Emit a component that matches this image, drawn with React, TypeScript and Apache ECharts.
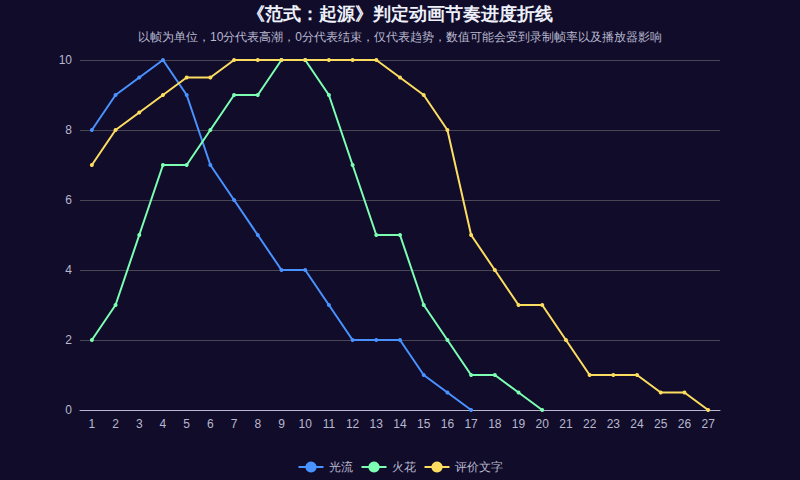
import React, { useEffect, useRef } from "react";
import * as echarts from "echarts";

const categories = ["1","2","3","4","5","6","7","8","9","10","11","12","13","14","15","16","17","18","19","20","21","22","23","24","25","26","27"];
const guangliu = [8, 9, 9.5, 10, 9, 7, 6, 5, 4, 4, 3, 2, 2, 2, 1, 0.5, 0, null, null, null, null, null, null, null, null, null, null];
const huohua = [2, 3, 5, 7, 7, 8, 9, 9, 10, 10, 9, 7, 5, 5, 3, 2, 1, 1, 0.5, 0, null, null, null, null, null, null, null];
const pingjia = [7, 8, 8.5, 9, 9.5, 9.5, 10, 10, 10, 10, 10, 10, 10, 9.5, 9, 8, 5, 4, 3, 3, 2, 1, 1, 1, 0.5, 0.5, 0];
const seriesNames = ["光流", "火花", "评价文字"];
const colors = ["#4992ff", "#7cffb2", "#fddd60"];

export default function App() {
  const ref = useRef<HTMLDivElement>(null);
  useEffect(() => {
    document.body.style.margin = "0";
    const chart = echarts.init(ref.current!, null, { renderer: "svg" });
    const datas = [guangliu, huohua, pingjia];
    chart.setOption({
      animation: false,
      backgroundColor: "#100c2a",
      color: colors,
      title: {
        text: "《范式：起源》判定动画节奏进度折线",
        subtext: "以帧为单位，10分代表高潮，0分代表结束，仅代表趋势，数值可能会受到录制帧率以及播放器影响",
        left: "center",
        top: 0,
        itemGap: 8,
        textStyle: { color: "#EEF1FA", fontSize: 18, fontWeight: "bold" },
        subtextStyle: { color: "#B9B8CE", fontSize: 12 },
      },
      legend: {
        bottom: 2,
        left: "center",
        data: seriesNames,
        textStyle: { color: "#B9B8CE", fontSize: 12 },
      },
      grid: { left: 80, right: 80, top: 60, bottom: 70 },
      xAxis: {
        type: "category",
        data: categories,
        axisLine: { lineStyle: { color: "#B9B8CE" } },
        axisTick: { lineStyle: { color: "#B9B8CE" } },
        axisLabel: { color: "#B9B8CE", fontSize: 12 },
      },
      yAxis: {
        type: "value",
        min: 0,
        max: 10,
        interval: 2,
        axisLabel: { color: "#B9B8CE", fontSize: 12 },
        splitLine: { lineStyle: { color: "#484753" } },
        axisLine: { show: false },
      },
      series: datas.map((d, i) => ({
        name: seriesNames[i],
        type: "line",
        data: d,
        symbol: "circle",
        symbolSize: 4,
        lineStyle: { width: 2 },
      })),
    });
    return () => chart.dispose();
  }, []);
  return <div ref={ref} style={{ width: 800, height: 480 }} />;
}
